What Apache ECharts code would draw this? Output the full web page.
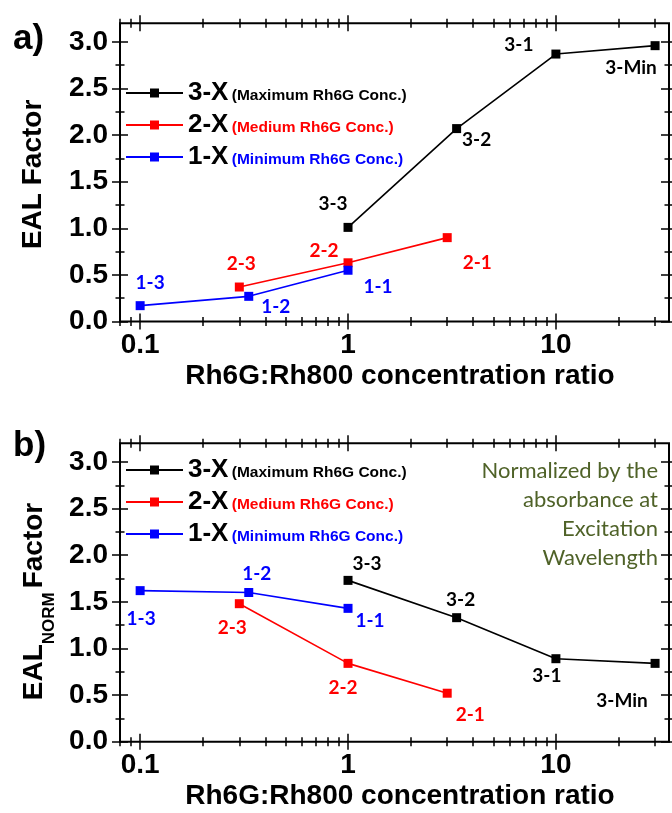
<!DOCTYPE html>
<html>
<head>
<meta charset="utf-8">
<script src="https://cdn.jsdelivr.net/npm/echarts@6/dist/echarts.min.js"></script>
<style>
  html, body { margin: 0; padding: 0; background: #fff; }
  #chart { width: 672px; height: 813px; }
</style>
</head>
<body>
<div id="chart"></div>
<script>
// Rh6G:Rh800 concentration ratio of each sample (x values)
const ratioBlack = [1, 3.33, 10, 30];
const ratioRed = [0.3, 1, 3];
const ratioBlue = [0.1, 0.333, 1];

// sample names shown next to each point
const namesBlack = ['3-3', '3-2', '3-1', '3-Min'];
const namesRed = ['2-3', '2-2', '2-1'];
const namesBlue = ['1-3', '1-2', '1-1'];

// panel a) EAL factor
const ealBlack = [1.01, 2.07, 2.87, 2.96];
const ealRed = [0.37, 0.63, 0.90];
const ealBlue = [0.17, 0.27, 0.55];

// panel b) EAL factor normalized by absorbance at excitation wavelength
const normBlack = [1.73, 1.33, 0.89, 0.84];
const normRed = [1.48, 0.84, 0.52];
const normBlue = [1.62, 1.60, 1.43];

// series names and legend descriptions
const seriesNames = ['3-X', '2-X', '1-X'];
const seriesNotes = ['(Maximum Rh6G Conc.)', '(Medium Rh6G Conc.)', '(Minimum Rh6G Conc.)'];

// tick values
const xMajorTicks = [0.1, 1, 10];
const xMinorTicks = [0.08, 0.09, 0.2, 0.3, 0.4, 0.5, 0.6, 0.7, 0.8, 0.9,
                     2, 3, 4, 5, 6, 7, 8, 9, 20, 30];
const yMajorTicks = [0, 0.5, 1, 1.5, 2, 2.5, 3];
const yMinorTicks = [0.25, 0.75, 1.25, 1.75, 2.25, 2.75];

// label offsets (px) relative to each marker
const offA = {
  black: [[-15, -24], [20, 11], [-37, -9], [-24, 22]],
  red: [[2, -23], [-24, -12], [30, 25]],
  blue: [[10, -23], [27, 11], [30, 17]]
};
const offB = {
  black: [[19, -17], [4, -18], [-9, 17], [-33, 38]],
  red: [[-7, 24], [-5, 25], [23, 22]],
  blue: [[1, 28], [8, -19], [22, 13]]
};

const COLORS = { black: '#000000', red: '#ff0000', blue: '#0000ff' };
const FONT_AXIS = '"Liberation Sans", Arial, sans-serif';
const FONT_LABEL = 'Lato, "Open Sans", sans-serif';

const X_MIN = Math.log10(0.08);
const X_MAX = Math.log10(35);
const Y_MIN = 0;
const Y_MAX = 3.2;

const grids = [
  { left: 120, right: 3, top: 23.3, height: 298.2 },
  { left: 120, right: 3, top: 443.3, height: 298.4 }
];

const xAxes = [];
const yAxes = [];
const mainX = [];
const mainY = [];

function tickAxis(kind, gridIndex, position, offset, len, values) {
  const isX = kind === 'x';
  return {
    type: 'value', gridIndex, position, offset,
    min: isX ? X_MIN : Y_MIN, max: isX ? X_MAX : Y_MAX,
    axisLine: { show: false, onZero: false },
    axisTick: {
      show: true, length: len,
      customValues: isX ? values.map(Math.log10) : values,
      lineStyle: { color: '#000', width: 1.5 }
    },
    axisLabel: { show: false },
    splitLine: { show: false },
    silent: true
  };
}

function fmtRatio(v) {
  return String(parseFloat(Math.pow(10, v).toPrecision(3)));
}

const yNames = [
  '{m|EAL Factor}',
  '{m|EAL}{s|NORM}{f|Factor}'
];

grids.forEach((g, gi) => {
  // main axes carrying labels and titles
  mainX.push(xAxes.length);
  xAxes.push({
    type: 'value', gridIndex: gi, position: 'bottom',
    min: X_MIN, max: X_MAX,
    axisLine: { show: false, onZero: false },
    axisTick: { show: false },
    splitLine: { show: false },
    axisLabel: {
      customValues: xMajorTicks.map(Math.log10),
      formatter: fmtRatio,
      margin: 9.5,
      color: '#000', fontFamily: FONT_AXIS, fontWeight: 'bold', fontSize: 28, lineHeight: 28
    },
    name: 'Rh6G:Rh800 concentration ratio',
    nameLocation: 'middle',
    nameGap: 40.5,
    nameTextStyle: {
      color: '#000', fontFamily: FONT_AXIS, fontWeight: 'bold', fontSize: 28, lineHeight: 28,
      padding: [0, 0, 0, 11]
    }
  });
  xAxes.push(tickAxis('x', gi, 'bottom', -8, 16, xMajorTicks));
  xAxes.push(tickAxis('x', gi, 'bottom', -4.5, 9, xMinorTicks));
  xAxes.push(tickAxis('x', gi, 'top', -8, 16, xMajorTicks));
  xAxes.push(tickAxis('x', gi, 'top', -4.5, 9, xMinorTicks));

  mainY.push(yAxes.length);
  yAxes.push({
    type: 'value', gridIndex: gi, position: 'left',
    min: Y_MIN, max: Y_MAX,
    axisLine: { show: false, onZero: false },
    axisTick: { show: false },
    splitLine: { show: false },
    axisLabel: {
      customValues: yMajorTicks,
      formatter: v => v.toFixed(1),
      margin: 12,
      color: '#000', fontFamily: FONT_AXIS, fontWeight: 'bold', fontSize: 28, lineHeight: 28
    },
    name: yNames[gi],
    nameLocation: 'middle',
    nameGap: gi === 0 ? 60.7 : 57,
    nameTextStyle: {
      padding: gi === 0 ? [0, 4, 0, 0] : [0, 18, 0, 0],
      rich: {
        m: { fontFamily: FONT_AXIS, fontWeight: 'bold', fontSize: 28, lineHeight: 40, color: '#000', verticalAlign: 'top' },
        s: { fontFamily: FONT_AXIS, fontWeight: 'bold', fontSize: 17, lineHeight: 20, color: '#000', verticalAlign: 'top', padding: [21, 0, 0, 0] },
        f: { fontFamily: FONT_AXIS, fontWeight: 'bold', fontSize: 28, lineHeight: 40, color: '#000', verticalAlign: 'top', padding: [0, 0, 0, 4] }
      }
    }
  });
  yAxes.push(tickAxis('y', gi, 'left', -8, 16, yMajorTicks));
  yAxes.push(tickAxis('y', gi, 'left', -4.5, 9, yMinorTicks));
  yAxes.push(tickAxis('y', gi, 'right', -8, 16, yMajorTicks));
  yAxes.push(tickAxis('y', gi, 'right', -4.5, 9, yMinorTicks));
});

function lineSeries(name, colorKey, gi, ratios, values, names, offsets) {
  const color = COLORS[colorKey];
  return {
    type: 'line', name,
    xAxisIndex: mainX[gi], yAxisIndex: mainY[gi],
    data: ratios.map((r, i) => ({
      value: [Math.log10(r), values[i]],
      label: { offset: offsets[i] }
    })),
    symbol: 'rect', symbolSize: 9,
    lineStyle: { color, width: 1.6 },
    itemStyle: { color },
    label: {
      show: true, position: 'inside',
      formatter: p => names[p.dataIndex],
      color, fontFamily: FONT_LABEL, fontWeight: 'bold', fontSize: 19,
      textBorderWidth: 0
    },
    emphasis: { disabled: true },
    animation: false
  };
}

const series = [
  lineSeries('3-X', 'black', 0, ratioBlack, ealBlack, namesBlack, offA.black),
  lineSeries('2-X', 'red', 0, ratioRed, ealRed, namesRed, offA.red),
  lineSeries('1-X', 'blue', 0, ratioBlue, ealBlue, namesBlue, offA.blue),
  lineSeries('3-X', 'black', 1, ratioBlack, normBlack, namesBlack, offB.black),
  lineSeries('2-X', 'red', 1, ratioRed, normRed, namesRed, offB.red),
  lineSeries('1-X', 'blue', 1, ratioBlue, normBlue, namesBlue, offB.blue)
];

const noteKeys = ['k', 'r', 'b'];
const noteStyle = color => ({
  fontFamily: FONT_AXIS, fontWeight: 'bold', fontSize: 15.5, lineHeight: 18,
  color, verticalAlign: 'top', padding: [7.6, 0, 0, 0]
});
function legendFor(top) {
  return {
    left: 125, top, orient: 'vertical', padding: 0,
    itemWidth: 57, itemHeight: 11.25, itemGap: 6,
    selectedMode: false,
    data: seriesNames,
    formatter: name => {
      const i = seriesNames.indexOf(name);
      return '{n|' + name + '} {' + noteKeys[i] + '|' + seriesNotes[i] + '}';
    },
    textStyle: {
      rich: {
        n: { fontFamily: FONT_AXIS, fontWeight: 'bold', fontSize: 26, lineHeight: 26, color: '#000', verticalAlign: 'top' },
        k: noteStyle(COLORS.black),
        r: noteStyle(COLORS.red),
        b: noteStyle(COLORS.blue)
      }
    }
  };
}

const chart = echarts.init(document.getElementById('chart'), null, { renderer: 'canvas' });
chart.setOption({
  backgroundColor: '#ffffff',
  animation: false,
  grid: grids.map(g => Object.assign({
    show: true, borderColor: '#000', borderWidth: 2, backgroundColor: 'transparent',
    containLabel: false, outerBoundsMode: 'none'
  }, g)),
  xAxis: xAxes,
  yAxis: yAxes,
  legend: [legendFor(80), legendFor(457)],
  series,
  graphic: [
    {
      type: 'text', left: 13, top: 22,
      style: { text: 'a)', fill: '#000', font: 'bold 35px ' + FONT_AXIS }
    },
    {
      type: 'text', left: 13, top: 429,
      style: { text: 'b)', fill: '#000', font: 'bold 35px ' + FONT_AXIS }
    },
    {
      type: 'text', x: 658, y: 456,
      style: {
        text: 'Normalized by the\nabsorbance at\nExcitation\nWavelength',
        fill: '#4f6228', font: '22px ' + FONT_LABEL, align: 'right', verticalAlign: 'top', lineHeight: 29
      }
    }
  ]
});
</script>
</body>
</html>
